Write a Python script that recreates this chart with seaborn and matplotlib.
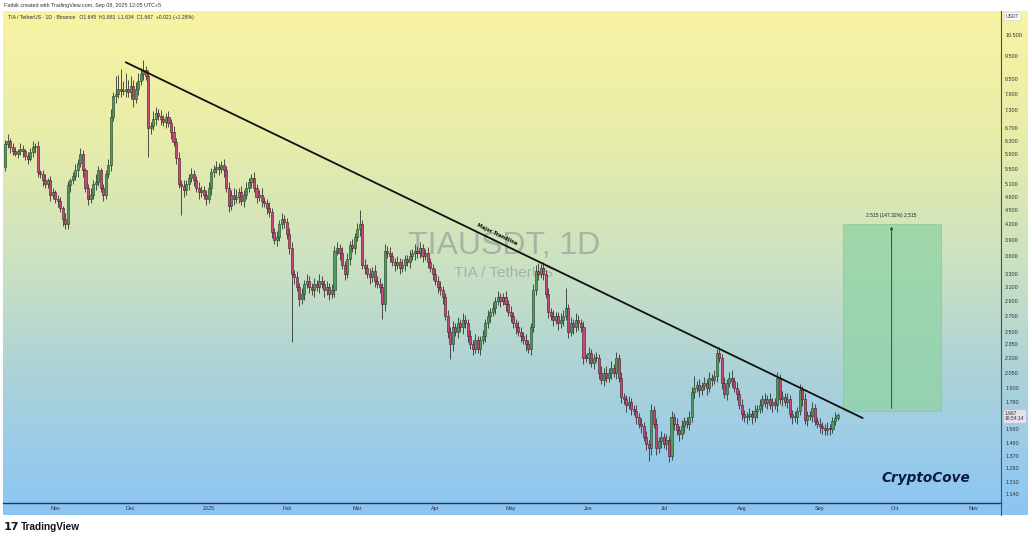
import numpy as np
import pandas as pd
import seaborn as sns
import matplotlib.pyplot as plt
import matplotlib.transforms as mtransforms
from matplotlib.patches import Rectangle
from matplotlib.lines import Line2D
from matplotlib.ticker import NullLocator

# daily closes TIA/USDT (Binance), 2024-10-12 .. 2025-09-08
closes = [
    6.20, 6.30, 6.10, 6.00, 5.90, 6.00, 6.05, 6.00, 5.85, 5.75, 5.95, 6.10, 6.15,
    5.40, 5.35, 5.20, 5.10, 5.20, 4.85, 4.90, 4.75, 4.70, 4.55, 4.30, 4.20,
    5.07, 5.20, 5.30, 5.45, 5.65, 5.90, 5.45, 5.00, 4.75, 4.85, 5.10, 5.15, 5.45, 5.00, 4.85,
    5.35, 5.60, 7.05, 7.80, 7.90, 8.10, 8.00, 8.00, 8.10, 7.95, 8.20, 7.70,
    8.10, 8.40, 8.70, 8.85, 8.60, 6.70, 6.75, 7.00, 7.20, 7.10, 7.00, 6.90, 7.05, 6.85,
    6.55, 6.25, 5.80, 5.10, 5.05, 4.95, 5.10, 5.25, 5.35, 5.20, 5.00, 4.90, 4.95, 4.85, 4.75,
    5.00, 5.40, 5.50, 5.55, 5.50, 5.60, 5.45, 5.00, 4.60,
    4.85, 4.75, 4.80, 4.90, 4.70, 4.85, 5.00, 5.15, 5.25, 5.00, 4.80, 4.85, 4.70, 4.65,
    4.55, 4.45, 4.05, 3.90, 3.95, 4.20, 4.30, 4.25,
    4.00, 3.75, 3.30, 3.25, 3.10, 2.92, 3.00,
    3.15, 3.20, 3.10, 3.05, 3.15, 3.10, 3.20, 3.15, 3.05, 3.10, 3.00, 3.05,
    3.70, 3.75, 3.65, 3.45, 3.30, 3.55, 3.80, 3.75, 3.95, 4.10, 4.20,
    3.45, 3.40, 3.30, 3.25, 3.35, 3.20, 3.15, 3.10, 2.85,
    3.70, 3.65, 3.60, 3.50, 3.45, 3.50, 3.40, 3.45, 3.55, 3.50, 3.60, 3.65,
    3.70, 3.65, 3.75, 3.60, 3.65, 3.50, 3.40, 3.30, 3.20, 3.10, 3.05, 2.95,
    2.70, 2.50, 2.35, 2.55, 2.50, 2.60, 2.55, 2.65, 2.60,
    2.45, 2.35, 2.30, 2.40, 2.30, 2.40, 2.45, 2.60, 2.70, 2.75, 2.80,
    2.90, 2.95, 2.90, 2.95, 2.85, 2.75, 2.70, 2.60, 2.55, 2.50, 2.45, 2.40, 2.35, 2.30,
    2.55, 3.05, 3.35, 3.30, 3.40, 3.30, 3.00, 2.75,
    2.70, 2.65, 2.70, 2.60, 2.65, 2.70, 2.80, 2.50, 2.60, 2.55, 2.65, 2.60, 2.55,
    2.20, 2.20, 2.25, 2.15, 2.20, 2.20, 2.05, 1.98, 2.05, 2.00, 2.05, 2.10, 2.05,
    2.20, 2.00, 1.82, 1.80, 1.75, 1.78, 1.72, 1.70, 1.65, 1.60, 1.58, 1.50, 1.45, 1.42,
    1.71, 1.60, 1.42, 1.47, 1.50, 1.45, 1.48, 1.37, 1.65,
    1.60, 1.55, 1.52, 1.58, 1.62, 1.60, 1.65, 1.87, 1.90, 1.93, 1.88, 1.92, 1.95, 1.90,
    2.00, 1.98, 2.02, 2.25, 2.20, 1.95, 1.85, 1.95, 2.00, 1.97, 1.90, 1.85,
    1.75, 1.68, 1.65, 1.66, 1.68, 1.65, 1.70,
    1.72, 1.75, 1.80, 1.77, 1.80, 1.75, 1.78, 1.75, 2.00, 1.80, 1.82, 1.78, 1.80,
    1.68, 1.65, 1.65, 1.70, 1.88, 1.80, 1.63, 1.67, 1.66, 1.73,
    1.62, 1.60, 1.58, 1.57, 1.55, 1.57, 1.56, 1.62, 1.645, 1.667,
]
first_open = 5.55

# wick length beyond the body, in percent of price
up_wick = [
    2, 3, 1, 2, 2, 1, 3, 2, 1, 2, 2, 3, 1, 2, 1, 2, 3, 1, 2, 2,
    1, 2, 2, 1, 3, 2, 1, 2, 3, 2, 3, 2, 1, 2, 3, 2, 4, 2, 1, 2,
    2, 3, 4, 2, 9, 7, 10, 5, 8, 4, 5, 3, 3, 4, 3, 5, 2, 3, 2, 4,
    3, 2, 3, 2, 2, 3, 2, 3, 2, 3, 2, 3, 2, 2, 3, 2, 2, 3, 2, 2,
    2, 3, 2, 2, 3, 2, 2, 3, 2, 3, 2, 3, 4, 2, 3, 2, 3, 2, 2, 3,
    2, 2, 3, 2, 2, 3, 2, 2, 3, 2, 3, 2, 2, 3, 3, 2, 3, 2, 3, 2,
    3, 2, 2, 3, 2, 3, 2, 2, 3, 2, 3, 2, 3, 2, 3, 2, 3, 2, 3, 2,
    3, 7, 2, 3, 2, 3, 2, 3, 2, 3, 2, 3, 2, 3, 2, 2, 3, 2, 3, 2,
    2, 3, 2, 3, 2, 3, 2, 2, 3, 2, 2, 3, 2, 3, 2, 2, 3, 2, 3, 2,
    3, 2, 3, 2, 2, 3, 2, 3, 2, 2, 3, 2, 3, 2, 3, 2, 3, 2, 2, 3,
    2, 3, 2, 2, 3, 2, 2, 3, 2, 2, 3, 3, 4, 2, 3, 2, 3, 2, 3, 2,
    2, 3, 3, 10, 2, 3, 2, 3, 2, 2, 3, 2, 3, 2, 2, 3, 2, 3, 2, 3,
    2, 3, 2, 3, 2, 3, 2, 2, 3, 2, 2, 3, 2, 3, 2, 3, 2, 3, 2, 3,
    2, 3, 2, 3, 2, 3, 2, 3, 2, 3, 2, 2, 3, 2, 6, 2, 3, 2, 3, 2,
    3, 2, 3, 2, 3, 2, 3, 2, 3, 4, 2, 3, 2, 3, 2, 2, 3, 2, 3, 2,
    3, 2, 3, 2, 3, 2, 2, 3, 2, 3, 2, 3, 2, 2, 3, 2, 3, 2, 3, 2,
    2, 3, 2, 2, 3, 2, 2, 3, 2, 2, 3, 1,
]
dn_wick = [
    2, 2, 3, 2, 1, 2, 2, 3, 2, 2, 1, 2, 3, 2, 2, 3, 2, 2, 3, 2,
    2, 3, 2, 3, 2, 2, 3, 2, 2, 3, 2, 3, 2, 3, 2, 2, 3, 2, 2, 3,
    2, 2, 3, 2, 3, 2, 3, 2, 3, 2, 3, 4, 2, 3, 2, 3, 2, 13, 3, 2,
    3, 2, 3, 2, 3, 2, 3, 2, 3, 2, 13, 3, 2, 3, 2, 3, 2, 3, 2, 2,
    3, 2, 3, 2, 2, 3, 2, 3, 2, 3, 2, 3, 2, 3, 2, 3, 2, 2, 3, 2,
    3, 2, 3, 2, 3, 2, 3, 2, 3, 2, 2, 3, 2, 3, 28, 3, 2, 3, 2, 3,
    2, 3, 2, 3, 2, 3, 2, 3, 2, 3, 2, 3, 2, 3, 2, 3, 2, 3, 2, 3,
    2, 3, 2, 3, 2, 3, 2, 3, 2, 3, 7, 3, 2, 3, 2, 3, 2, 3, 2, 3,
    2, 3, 2, 3, 2, 2, 3, 2, 3, 2, 3, 2, 3, 2, 3, 2, 3, 7, 3, 2,
    3, 2, 3, 2, 3, 2, 3, 2, 2, 3, 2, 3, 2, 3, 2, 3, 2, 3, 2, 3,
    2, 3, 2, 3, 2, 3, 2, 3, 2, 3, 2, 2, 3, 2, 3, 2, 3, 2, 3, 2,
    3, 2, 3, 2, 3, 2, 3, 2, 3, 2, 3, 2, 3, 2, 3, 2, 3, 2, 3, 2,
    2, 3, 2, 3, 2, 3, 2, 3, 2, 3, 2, 3, 2, 3, 2, 3, 6, 3, 2, 3,
    2, 3, 2, 3, 3, 2, 3, 2, 3, 2, 3, 2, 3, 2, 3, 2, 3, 2, 2, 3,
    2, 3, 2, 3, 2, 3, 2, 3, 2, 3, 2, 3, 2, 3, 2, 3, 2, 3, 2, 3,
    2, 3, 2, 3, 2, 3, 2, 3, 2, 3, 2, 3, 2, 3, 2, 3, 2, 3, 2, 3,
    2, 3, 2, 2, 3, 3, 2, 2, 3, 2, 2, 1,
]

price_ticks = [10.5, 9.5, 8.5, 7.9, 7.3, 6.7, 6.3, 5.9, 5.5, 5.1, 4.8, 4.5, 4.2, 3.9,
               3.6, 3.3, 3.1, 2.9, 2.7, 2.5, 2.35, 2.2, 2.05, 1.9, 1.78, 1.56, 1.46,
               1.37, 1.29, 1.21, 1.14]
month_starts = ["2024-11-01", "2024-12-01", "2025-01-01", "2025-02-01", "2025-03-01",
                "2025-04-01", "2025-05-01", "2025-06-01", "2025-07-01", "2025-08-01",
                "2025-09-01", "2025-10-01", "2025-11-01"]
month_labels = ["Nov", "Dec", "2025", "Feb", "Mar", "Apr", "May", "Jun", "Jul", "Aug",
                "Sep", "Oct", "Nov"]

trend_dates = ["2024-11-29", "2025-09-18"]
trend_prices = [9.20, 1.645]
target_dates = ["2025-09-10", "2025-10-19"]
target_prices = [1.70, 4.215]

W, H = 1032, 540
start = pd.Timestamp("2024-10-12")


def day(d):
    return (pd.Timestamp(d) - start).days


def fx(x):
    return x / W


def fy(y):
    return 1 - y / H


sns.set_theme(style="white")
plt.rcParams["font.family"] = ["Liberation Sans", "DejaVu Sans"]

df = pd.DataFrame({"date": pd.date_range(start, periods=len(closes), freq="D"),
                   "close": closes})
df["open"] = [first_open] + closes[:-1]
df["x"] = (df["date"] - start).dt.days
top = np.maximum(df["open"], df["close"])
bot = np.minimum(df["open"], df["close"])
df["high"] = top * (1 + np.array(up_wick) / 100)
df["low"] = bot * (1 - np.array(dn_wick) / 100)
rising = df["close"] >= df["open"]

fig = plt.figure(figsize=(W / 100, H / 100), dpi=100)
fig.patch.set_facecolor("white")

# gradient panel + time strip
bg = fig.add_axes([fx(3), fy(503), fx(1025), 492 / H])
grad = sns.blend_palette(["#f9f3a3", "#e8eda9", "#cde2c0", "#abd2da", "#8ec7f3"], as_cmap=True)
bg.imshow(np.linspace(0, 1, 256).reshape(-1, 1), aspect="auto", cmap=grad,
          extent=[0, 1, 0, 1])
bg.set_axis_off()
fig.patches.append(Rectangle((fx(3), fy(515)), fx(1025), 12 / H, transform=fig.transFigure,
                             facecolor="#8ec5f0", edgecolor="none", zorder=-1))

ax = fig.add_axes([fx(3), fy(503), fx(998), 492 / H])
ax.set_facecolor("none")
ax.set_yscale("log")
ax.set_ylim(1.0907, 11.79)
ax.set_xlim(-0.8, 396.0)

# candles
ax.vlines(df["x"], df["low"], df["high"], color="#333333", linewidth=0.6, zorder=2)
body_h = np.maximum(top - bot, bot * 0.007)
ax.bar(df["x"][rising], body_h[rising], bottom=bot[rising], width=0.82,
       color="#4f9d5c", edgecolor="#264d2e", linewidth=0.45, zorder=3)
ax.bar(df["x"][~rising], body_h[~rising], bottom=bot[~rising], width=0.82,
       color="#c9467a", edgecolor="#55202f", linewidth=0.45, zorder=3)

# trendline
tx = [day(d) for d in trend_dates]
ax.plot(tx, trend_prices, color="#111111", linewidth=1.3, zorder=4)
ax.text(day("2025-04-25"), 3.96, "Major Trendline", rotation=-25.8, rotation_mode="anchor",
        fontsize=3.6, fontweight="bold", color="#111111", ha="center", va="bottom",
        family="DejaVu Sans", zorder=5)

# target projection box
gx = [day(d) for d in target_dates]
ax.add_patch(Rectangle((gx[0], target_prices[0]), gx[1] - gx[0],
                       target_prices[1] - target_prices[0],
                       facecolor="#8fd3a4", edgecolor="#7cc090", linewidth=0.5,
                       alpha=0.75, zorder=1.5))
mid = (gx[0] + gx[1]) / 2
ax.annotate("", xy=(mid, target_prices[1]), xytext=(mid, target_prices[0]),
            arrowprops=dict(arrowstyle="-|>", color="#2f4f3a", lw=0.7,
                            mutation_scale=4), zorder=4)
ax.text(mid, target_prices[1] * 1.025, "2.515 (147.32%) 2,515", fontsize=3.6,
        color="#222222", ha="center", va="bottom", zorder=5)

# watermark
ax.text(0.502, 0.523, "TIAUSDT, 1D", transform=ax.transAxes, fontsize=23,
        color="#787b86", alpha=0.45, ha="center", va="center", zorder=1)
ax.text(0.502, 0.467, "TIA / TetherUS", transform=ax.transAxes, fontsize=11,
        color="#787b86", alpha=0.45, ha="center", va="center", zorder=1)

# axes styling
for s in ["top", "left"]:
    ax.spines[s].set_visible(False)
ax.spines["right"].set_color("#4a4f5c")
ax.spines["right"].set_linewidth(0.8)
ax.spines["bottom"].set_color("#2a3550")
ax.spines["bottom"].set_linewidth(1.0)
ax.yaxis.tick_right()
ax.set_yticks(price_ticks)
ax.set_yticklabels([f"{p:.3f}" for p in price_ticks])
ax.yaxis.set_minor_locator(NullLocator())
ax.set_xticks([day(d) for d in month_starts])
ax.set_xticklabels(month_labels)
ax.tick_params(axis="y", length=0, pad=3, labelsize=3.9, labelcolor="#2a2e39")
ax.tick_params(axis="x", length=0, pad=2.4, labelsize=3.9, labelcolor="#2a2e39")
ax.grid(False)

# current price label
trans = mtransforms.blended_transform_factory(ax.transAxes, ax.transData)
ax.text(1.004, 1.700, "1.667\n16:54:14", transform=trans, fontsize=3.6, color="#2a2e39",
        ha="left", va="top", linespacing=1.05,
        bbox=dict(boxstyle="square,pad=0.25", facecolor="#e6e0ea", edgecolor="none"),
        zorder=6, clip_on=False)

fig.add_artist(Line2D([fx(1001), fx(1001)], [fy(503), fy(515)], color="#4a4f5c",
                      linewidth=0.8))

# texts around the chart
fig.text(fx(4), fy(5.5), "Fatbik created with TradingView.com, Sep 08, 2025 12:05 UTC+5",
         fontsize=3.9, color="#333333", va="center", ha="left")
fig.text(fx(8), fy(17), "TIA / TetherUS \u00b7 1D \u00b7 Binance   O1.645  H1.681  L1.634  "
         "C1.667  +0.021 (+1.28%)", fontsize=3.7, color="#2a2e39", va="center", ha="left")
fig.text(fx(1012), fy(16), "USDT", fontsize=3.6, color="#2a2e39", va="center", ha="center",
         bbox=dict(boxstyle="square,pad=0.3", facecolor="white", edgecolor="#d0d0d0",
                   linewidth=0.4))
fig.text(fx(926), fy(478), "CryptoCove", fontsize=9.8, fontweight="bold", style="italic",
         color="#0d1b3e", va="center", ha="center", family="DejaVu Sans")
fig.text(fx(4), fy(527), "17", fontsize=8, fontweight="heavy", color="#131722",
         va="center", ha="left", family="DejaVu Sans")
fig.text(fx(21), fy(527), "TradingView", fontsize=7.2, fontweight="bold", color="#131722",
         va="center", ha="left")

fig.savefig("out.png", dpi=100)
